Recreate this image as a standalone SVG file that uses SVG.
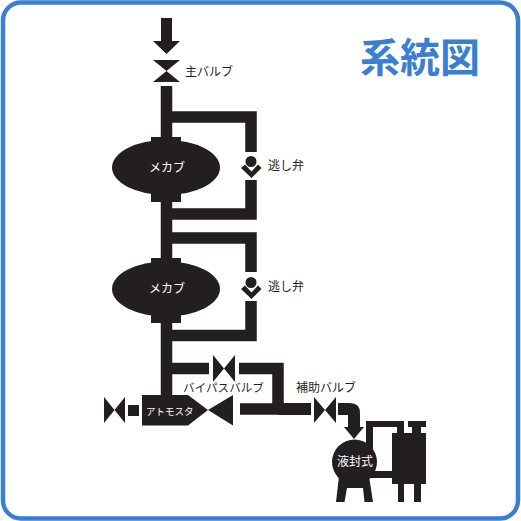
<svg xmlns="http://www.w3.org/2000/svg" width="521" height="521" viewBox="0 0 521 521">
<style>
.k{fill:#231f20}
.p{fill:none;stroke:#231f20;stroke-width:11.500}
text{font-family:"Noto Sans CJK JP",sans-serif}
.l{font-size:12px;fill:#231f20}
.w{font-size:12px;fill:#fff}
</style>
<rect width="521" height="521" fill="#fff"/>
<rect id="frame" x="3" y="2.500" width="515" height="516" rx="18" fill="#fff" stroke="#3a7fd0" stroke-width="4.500"/>
<text id="title" x="360" y="72" fill="#3a7fd0" style="font-size:40px;font-weight:700">系統図</text>
<g id="connectors">
<path class="p" d="M166.500 86V396"/>
<path class="p" d="M172 117H251V152"/>
<path class="p" d="M251 180V214H172"/>
<path class="p" d="M172 238H251V272"/>
<path class="p" d="M251 301V335.500H172"/>
<path class="p" d="M172 368.500H209"/>
<path class="p" d="M239 368.500H278V409H240"/>
<path class="k" d="M278 403H311V415H278Z"/>
<path class="k" d="M338 403H350Q360 403 360 413V427H348V415H338Z"/>
<path class="k" d="M161 18H172V41H180L166.500 54L153 41H161Z"/>
<path class="k" d="M344 427H364L354 439Z"/>
<rect class="k" x="128" y="405" width="11" height="11"/>
<path class="k" d="M366 445V421H404V433H397V427H373V471H392V478H366Z"/>
</g>
<g id="main-valve"><path class="k" d="M153 60H180L153 82H180Z"/><text class="l" x="185" y="76">主バルブ</text></g>
<g id="mecab1"><rect class="k" x="151" y="137" width="30" height="65"/><ellipse class="k" cx="166" cy="167.500" rx="54" ry="27.500"/><text class="w" x="149" y="172">メカブ</text></g>
<g id="mecab2"><rect class="k" x="151" y="258" width="30" height="65"/><ellipse class="k" cx="166" cy="289" rx="54" ry="27.500"/><text class="w" x="149" y="293">メカブ</text></g>
<g id="relief1"><circle class="k" cx="251" cy="161.500" r="5.500"/><path class="k" d="M241 168L245 164.500L251.500 171.500L258 164.500L261.500 168L251.500 178Z"/><text class="l" x="268" y="170">逃し弁</text></g>
<g id="relief2"><circle class="k" cx="251" cy="282.500" r="5.500"/><path class="k" d="M241 289L245 285.500L251.500 292.500L258 285.500L261.500 289L251.500 299Z"/><text class="l" x="268" y="291">逃し弁</text></g>
<g id="bypass-valve"><path class="k" d="M213 355L235 382V355L213 382Z"/><text class="l" x="183" y="392" style="font-size:11.600px">バイパスバルブ</text></g>
<g id="left-valve"><path class="k" d="M104 397L125 423V397L104 423Z"/></g>
<g id="atmos"><path class="k" d="M142 395H188L208 410L188 425.500H142Z"/><path class="k" d="M208 410L233 395V425.500Z"/><text class="w" x="146" y="415" style="font-size:9.500px">アトモスタ</text></g>
<g id="aux-valve"><path class="k" d="M314 397L336 423V397L314 423Z"/><text class="l" x="296" y="392">補助バルブ</text></g>
<g id="pump"><path class="k" d="M339 476L336 502H344.500L347 488H363L364.500 502H373L369 476Z"/><circle class="k" cx="354.500" cy="462" r="22.500"/><text class="w" x="337" y="466">液封式</text></g>
<g id="tank"><path class="k" d="M408 421H426V427H421V433H426V484H421V502H414V484H404V502H398V484H392V433H412V427H408Z"/></g>
</svg>
